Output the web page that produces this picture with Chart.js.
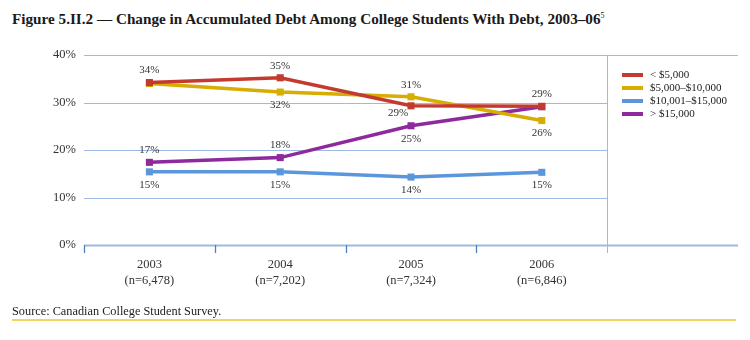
<!DOCTYPE html>
<html>
<head>
<meta charset="utf-8">
<script src="https://cdn.jsdelivr.net/npm/chart.js@4/dist/chart.umd.min.js"></script>
<style>
  html, body { margin: 0; padding: 0; background: #fff; }
  body { width: 750px; height: 340px; position: relative; overflow: hidden; }
  #title { position: absolute; left: 12px; top: 10px; font-family: "Liberation Serif", serif; font-weight: bold; font-size: 15.2px; color: #1a1a1a; white-space: nowrap; }
  #title sup { font-size: 8px; font-weight: normal; vertical-align: 6px; line-height: 0; }
  #source { position: absolute; left: 12px; top: 304px; font-family: "Liberation Serif", serif; font-size: 12.3px; color: #222; white-space: nowrap; }
  #rule { position: absolute; left: 12px; top: 319px; width: 724px; height: 2px; background: #f3d65c; }
  #wrap { position: absolute; left: 0; top: 0; width: 750px; height: 340px; }
</style>
</head>
<body>
<div id="title">Figure 5.II.2 — Change in Accumulated Debt Among College Students With Debt, 2003–06<sup>5</sup></div>
<div id="wrap"><canvas id="c" width="750" height="340"></canvas></div>
<div id="source">Source: Canadian College Student Survey.</div>
<div id="rule"></div>
<script>
const categories = ['2003', '2004', '2005', '2006'];
const sampleSizes = ['(n=6,478)', '(n=7,202)', '(n=7,324)', '(n=6,846)'];
const seriesNames = ['< $5,000', '$5,000–$10,000', '$10,001–$15,000', '> $15,000'];
const under5k = [34.2, 35.2, 29.3, 29.2];
const from5kTo10k = [34.0, 32.2, 31.2, 26.2];
const from10kTo15k = [15.4, 15.4, 14.3, 15.3];
const over15k = [17.4, 18.4, 25.1, 29.1];
const yTicks = [0, 10, 20, 30, 40];

const colors = ['#c33a2e', '#d6ad00', '#5b96dc', '#8e2a9d'];
// label placement per point: 'a' above, 'b' below, 'bl' below-left, null none
const labelPlacement = [
  ['a', 'a', 'bl', 'a'],
  [null, 'b', 'a', 'b'],
  ['b', 'b', 'b', 'b'],
  ['a', 'a', 'b', null]
];

const xLabels = categories.concat(['']);
const seriesValues = [under5k, from5kTo10k, from10kTo15k, over15k];

const datasets = seriesValues.map((vals, i) => ({
  label: seriesNames[i],
  data: vals,
  borderColor: colors[i],
  backgroundColor: colors[i],
  borderWidth: 3.5,
  pointStyle: 'rect',
  pointRadius: 5,
  pointHoverRadius: 5,
  pointBorderWidth: 0,
  tension: 0,
  fill: false
}));

const GRID = '#9dbae2';

const axisPlugin = {
  id: 'axisDeco',
  beforeDatasetsDraw(chart) {
    const ctx = chart.ctx;
    const xs = chart.scales.x;
    const ys = chart.scales.y;
    const area = chart.chartArea;
    const half = (xs.getPixelForValue(1) - xs.getPixelForValue(0)) / 2;
    const divider = Math.round(xs.getPixelForValue(categories.length) - half) + 0.5;
    ctx.save();
    ctx.strokeStyle = GRID;
    yTicks.forEach(v => {
      const y = Math.round(ys.getPixelForValue(v)) + 0.5;
      const full = (v === yTicks[0] || v === yTicks[yTicks.length - 1]);
      ctx.lineWidth = v === yTicks[0] ? 2 : 1;
      ctx.beginPath();
      ctx.moveTo(area.left, y);
      ctx.lineTo(full ? area.right : divider, y);
      ctx.stroke();
    });
    for (let i = 0; i <= categories.length; i++) {
      const x = Math.round(xs.getPixelForValue(i) - half) + 0.5;
      const last = i === categories.length;
      ctx.strokeStyle = last ? GRID : '#4f7fc0';
      ctx.lineWidth = last ? 1 : 1.3;
      ctx.beginPath();
      ctx.moveTo(x, last ? area.top : area.bottom);
      ctx.lineTo(x, area.bottom + 8);
      ctx.stroke();
    }
    ctx.restore();
  },
  afterDatasetsDraw(chart) {
    const ctx = chart.ctx;
    ctx.save();
    ctx.font = '11px "Liberation Serif", serif';
    ctx.fillStyle = '#333';
    ctx.textAlign = 'center';
    ctx.textBaseline = 'middle';
    chart.data.datasets.forEach((ds, di) => {
      const meta = chart.getDatasetMeta(di);
      meta.data.forEach((pt, pi) => {
        const p = labelPlacement[di][pi];
        if (!p) return;
        const txt = Math.round(ds.data[pi]) + '%';
        let x = pt.x, y = pt.y;
        if (p === 'a') y -= 12;
        else if (p === 'b') y += 13;
        else if (p === 'bl') { x -= 13; y += 7; }
        ctx.fillText(txt, x, y);
      });
    });
    const lx = 622, ly0 = 75, step = 13;
    ctx.textAlign = 'left';
    chart.data.datasets.forEach((ds, di) => {
      const y = ly0 + di * step;
      ctx.fillStyle = ds.borderColor;
      ctx.fillRect(lx, y - 2, 21, 4);
      ctx.fillStyle = '#222';
      ctx.fillText(ds.label, lx + 28, y + 0.5);
    });
    ctx.restore();
  }
};

new Chart(document.getElementById('c'), {
  type: 'line',
  data: { labels: xLabels, datasets },
  plugins: [axisPlugin],
  options: {
    responsive: false,
    animation: false,
    devicePixelRatio: 1,
    layout: { padding: { left: 0, right: 12, top: 55, bottom: 35 } },
    plugins: { legend: { display: false }, tooltip: { enabled: false }, title: { display: false } },
    scales: {
      x: {
        type: 'category',
        offset: true,
        grid: { display: false, drawTicks: false },
        border: { display: false },
        ticks: {
          autoSkip: false, maxRotation: 0, padding: 12,
          color: '#333',
          font: { family: '"Liberation Serif", serif', size: 12.5, lineHeight: '16px' },
          callback: (v, i) => i < categories.length ? [categories[i], sampleSizes[i]] : ''
        },
        afterFit(s) { s.height = 60; }
      },
      y: {
        min: 0, max: 40,
        afterBuildTicks(s) { s.ticks = yTicks.map(v => ({ value: v })); },
        grid: { display: false, drawTicks: false },
        border: { display: false },
        ticks: {
          padding: 8, color: '#333',
          font: { family: '"Liberation Serif", serif', size: 12.5 },
          callback: v => v + '%'
        },
        afterFit(s) { s.width = 84; }
      }
    }
  }
});
</script>
</body>
</html>
